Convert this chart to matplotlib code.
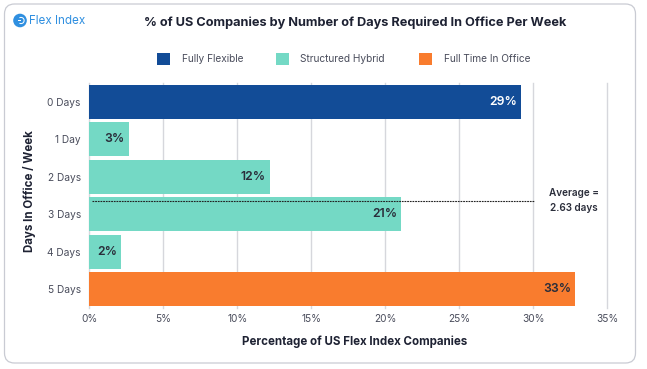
import matplotlib
matplotlib.use("Agg")
import matplotlib.pyplot as plt
from matplotlib.patches import FancyBboxPatch, Circle, Rectangle, Wedge

plt.rcParams['font.family'] = ['Inter', 'DejaVu Sans']

W, H = 647, 369

days = ["0 Days", "1 Day", "2 Days", "3 Days", "4 Days", "5 Days"]
values = [29.15, 2.67, 12.2, 21.05, 2.13, 32.8]
labels = ["29%", "3%", "12%", "21%", "2%", "33%"]
groups = ["flex", "hybrid", "hybrid", "hybrid", "hybrid", "office"]
xticks = [0, 5, 10, 15, 20, 25, 30, 35]
average = 2.63
average_end = 30.05

colors = {"flex": "#124C97", "hybrid": "#74D9C5", "office": "#F97C2E"}
legend_names = ["Fully Flexible", "Structured Hybrid", "Full Time In Office"]
legend_keys = ["flex", "hybrid", "office"]
legend_box_x = [157, 276, 419]
legend_text_x = [181.5, 300.5, 443.5]

fig = plt.figure(figsize=(W / 100, H / 100), dpi=100, facecolor="white")

# full figure overlay in pixel coords, for the card, logo and legend
bg = fig.add_axes([0, 0, 1, 1], zorder=0)
bg.set_xlim(0, W)
bg.set_ylim(H, 0)
bg.axis("off")
bg.add_patch(FancyBboxPatch((4.5, 4), 631, 359, boxstyle="round,pad=0,rounding_size=10",
                            fc="white", ec="#C9CBD3", lw=0.9))

# logo
bg.add_patch(Circle((20, 20.5), 6.8, fc="#2F8FE0", ec="none"))
bg.add_patch(Wedge((21, 20.5), 3.6, -120, 120, width=1.0, fc="white", ec="none"))
bg.add_patch(Rectangle((17.5, 19.8), 3.5, 1.3, fc="white", ec="none"))
bg.text(29, 20.5, "Flex Index", color="#2F8FE0", fontsize=8.4, va="center", ha="left")

bg.text(355, 22.5, "% of US Companies by Number of Days Required In Office Per Week",
        fontsize=9.2, fontweight="bold", color="#1E2233", ha="center", va="center")

# legend
for key, name, bx, tx in zip(legend_keys, legend_names, legend_box_x, legend_text_x):
    bg.add_patch(Rectangle((bx, 52.5), 13, 12.5, fc=colors[key], ec="none"))
    bg.text(tx, 58.7, name, fontsize=7.3, color="#4A4D5C", ha="left", va="center")

ax = fig.add_axes([89.2 / W, 1 - 307.7 / H, (607.3 - 89.2) / W, (307.7 - 83.3) / H], zorder=1)
ax.patch.set_alpha(0)
ax.set_xlim(0, 35)
ax.set_ylim(5.5, -0.5)

ax.barh(range(len(days)), values, height=0.91, color=[colors[g] for g in groups], zorder=2)
for i, (v, lab, g) in enumerate(zip(values, labels, groups)):
    ax.text(v - 0.25, i, lab, ha="right", va="center", fontsize=8.8, fontweight="semibold",
            color="white" if g == "flex" else "#2A2D3A", zorder=4)

# line sits a touch below the true value in the reference
ax.plot([0.2, average_end], [average + 0.03, average + 0.03], color="#222222", lw=0.8,
        ls=(0, (1.6, 0.8)), zorder=3)
ax.text(32.75, average + 0.0, "Average =\n2.63 days", fontsize=7.2, fontweight="semibold",
        color="#2A2D3A", ha="center", va="center", linespacing=1.65)

ax.set_xticks(xticks)
ax.set_xticklabels([f"{t}%" for t in xticks], fontsize=7.3, color="#4A4D5C")
ax.set_yticks(range(len(days)))
ax.set_yticklabels(days, fontsize=7.3, color="#4A4D5C")
ax.tick_params(axis="x", length=0, pad=4.5)
ax.tick_params(axis="y", length=0, pad=6)
ax.grid(axis="x", color="#D6D7DC", lw=1.0, zorder=1)
for line in ax.get_xgridlines():
    line.set_clip_on(False)
ax.set_axisbelow(True)
for s in ax.spines.values():
    s.set_visible(False)

bg.text(354.5, 342, "Percentage of US Flex Index Companies", fontsize=8.3, fontweight="bold",
        color="#1E2233", ha="center", va="center")
bg.text(30, 191, "Days In Office / Week", fontsize=8.3, fontweight="bold", color="#1E2233",
        ha="center", va="center", rotation=90)

fig.savefig("out.png", dpi=100)
